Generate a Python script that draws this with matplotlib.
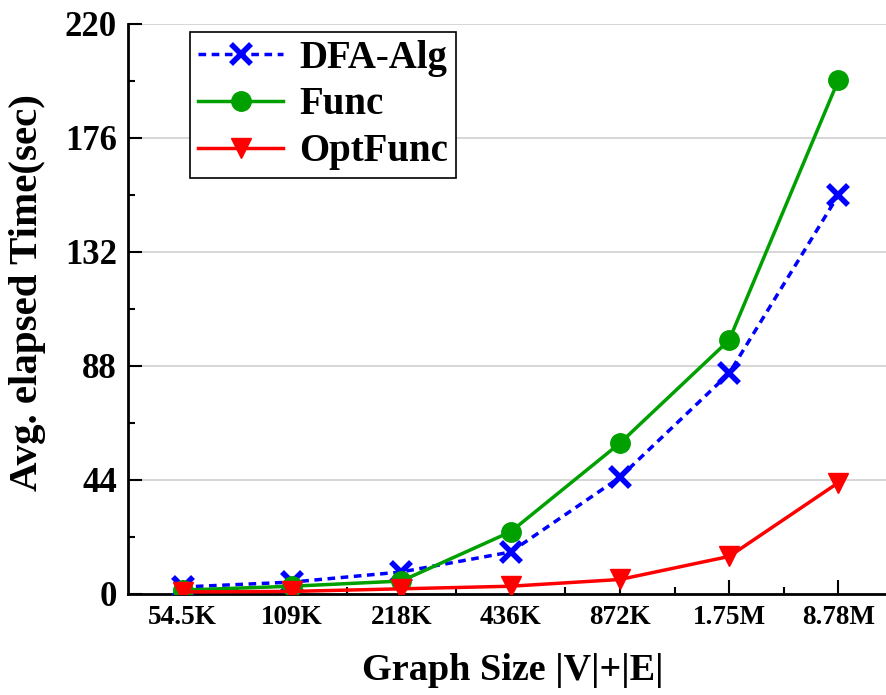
import numpy as np
import matplotlib.pyplot as plt
from matplotlib.ticker import MultipleLocator

sizes = ['54.5K', '109K', '218K', '436K', '872K', '1.75M', '8.78M']
dfa_alg = [2.7, 4.6, 8.5, 16.2, 45.0, 85.2, 154.0]
func = [1.5, 3.0, 5.0, 24.0, 58.2, 98.0, 198.4]
opt_func = [0.8, 1.0, 2.0, 3.0, 5.6, 14.5, 43.0]

plt.rcParams['font.family'] = 'Liberation Serif'
plt.rcParams['font.weight'] = 'bold'

fig = plt.figure(figsize=(8.86, 6.95), dpi=100)
ax = fig.add_axes([128 / 886, 1 - 594 / 695, 1 - 128 / 886, (594 - 24) / 695])
pos = np.arange(len(sizes))

ax.plot(pos, dfa_alg, color='#0000ff', ls=(0, (2.2, 1.6)), lw=2.5, marker='x',
        ms=15, mew=4, label='DFA-Alg', zorder=3)
ax.plot(pos, func, color='#00a000', lw=2.5, marker='o', ms=14, label='Func', zorder=3)
ax.plot(pos, opt_func, color='#ff0000', lw=2.5, marker='v', ms=15, label='OptFunc', zorder=3)

ax.set_xlim(-0.5, (886 - 128) / 109.3 - 0.5)
ax.set_ylim(0, 220)
ax.set_xticks(pos)
ax.set_xticklabels(sizes)
ax.set_xticks(pos[:-1] + 0.5, minor=True)
ax.yaxis.set_major_locator(MultipleLocator(44))
ax.yaxis.set_minor_locator(MultipleLocator(22))
ax.tick_params(which='both', direction='in', width=1.5)
ax.tick_params(which='major', length=10)
ax.tick_params(which='minor', length=5)
ax.tick_params(axis='y', labelsize=25, pad=8)
ax.tick_params(axis='x', labelsize=19.5, pad=8)
ax.grid(axis='y', color='#d0d0d0', lw=1.2)
ax.set_axisbelow(True)

for s in ['top', 'right']:
    ax.spines[s].set_visible(False)
for s in ['left', 'bottom']:
    ax.spines[s].set_linewidth(2)

ax.set_xlabel('Graph Size |V|+|E|', fontsize=27.5, fontweight='bold')
ax.xaxis.set_label_coords(0.507, -0.103)
ax.xaxis.label.set_va('top')
ax.set_ylabel('Avg. elapsed Time(sec)', fontsize=29.5, fontweight='bold')
ax.yaxis.set_label_coords(-0.108, 0.528)

leg = ax.legend(loc='upper left', bbox_to_anchor=(0.082, 0.986), fontsize=28,
                fancybox=False, framealpha=1, edgecolor='black',
                handlelength=2.2, borderpad=0.2, labelspacing=0.25, handletextpad=0.4,
                borderaxespad=0)
leg.get_frame().set_linewidth(1.2)

fig.savefig('out.png', dpi=100)
